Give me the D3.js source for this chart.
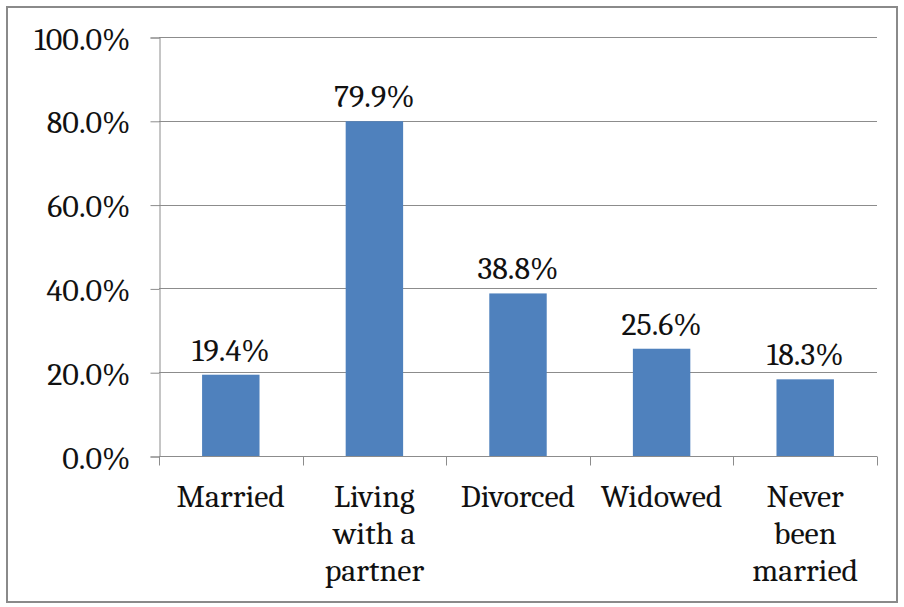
<!DOCTYPE html>
<html><head><meta charset="utf-8">
<script src="https://cdn.jsdelivr.net/npm/d3@7"></script>
<style>html,body{margin:0;padding:0;background:#fff;}svg{display:block;}</style>
</head><body>
<svg id="chart" width="904" height="607"></svg>
<script>
const categories = [["Married"], ["Living", "with a", "partner"], ["Divorced"], ["Widowed"], ["Never", "been", "married"]];
const values = [19.4, 79.9, 38.8, 25.6, 18.3];
const yTicks = [0, 20, 40, 60, 80, 100];

const svg = d3.select("#chart");
const font = "Caladea, Liberation Serif, serif";
const fs = 32;
const gridColor = "#8c8c8c";
const textColor = "#111";

svg.append("rect").attr("x", 7).attr("y", 7).attr("width", 890).attr("height", 595)
  .attr("fill", "#fff").attr("stroke", "#8a8a8a").attr("stroke-width", 2);

const plotL = 159, plotR = 877, plotT = 37, plotB = 456;
const keys = categories.map((c, i) => i);
const x = d3.scaleBand().domain(keys).range([plotL, plotR]).paddingInner(0.6).paddingOuter(0.3);
const xb = d3.scaleBand().domain(keys).range([plotL, plotR]);
const y = d3.scaleLinear().domain([0, 100]).range([plotB, plotT]);

// gridlines
svg.append("g").selectAll("line").data(yTicks.filter(d => d > 0)).join("line")
  .attr("x1", plotL).attr("x2", plotR)
  .attr("y1", d => Math.round(y(d)) + 0.5).attr("y2", d => Math.round(y(d)) + 0.5)
  .attr("stroke", gridColor).attr("stroke-width", 1);

// y axis
const yAxis = d3.axisLeft(y).tickValues(yTicks).tickSize(9).tickPadding(20)
  .tickFormat(d => d.toFixed(1) + "%");
const gy = svg.append("g").attr("transform", `translate(${plotL + 0.5},0.5)`).call(yAxis)
  .attr("font-family", font).attr("font-size", fs);
gy.select(".domain").attr("stroke", gridColor);
gy.selectAll(".tick line").attr("stroke", gridColor);
gy.selectAll(".tick text").style("font-family", font).style("font-size", fs + "px").attr("fill", textColor).attr("dy", "0.36em");

// bars
svg.append("g").selectAll("rect").data(values).join("rect")
  .attr("x", (d, i) => x(i)).attr("width", x.bandwidth())
  .attr("y", d => y(d)).attr("height", d => y(0) - y(d))
  .attr("fill", "#4F81BD");

// x axis
const gx = svg.append("g").attr("transform", `translate(0,${Math.round(plotB) + 0.5})`);
gx.append("line").attr("x1", plotL).attr("x2", plotR).attr("stroke", gridColor);
gx.selectAll("line.tk").data(d3.range(categories.length + 1)).join("line").attr("class", "tk")
  .attr("x1", i => Math.round(plotL + i * xb.bandwidth()) + 0.5)
  .attr("x2", i => Math.round(plotL + i * xb.bandwidth()) + 0.5)
  .attr("y1", 0).attr("y2", 9).attr("stroke", gridColor);

// category labels
const lab = svg.append("g").style("font-family", font).style("font-size", fs + "px").attr("fill", textColor).attr("text-anchor", "middle");
categories.forEach((lines, i) => {
  const cx = xb(i) + xb.bandwidth() / 2;
  const t = lab.append("text").attr("x", cx).attr("y", 507);
  lines.forEach((ln, j) => t.append("tspan").attr("x", cx).attr("dy", j === 0 ? 0 : 37).text(ln));
});

// data labels
svg.append("g").style("font-family", font).style("font-size", fs + "px").selectAll("text").data(values).join("text")
  .attr("x", (d, i) => x(i) + x.bandwidth() / 2).attr("y", d => y(d) - 14)
  .attr("text-anchor", "middle").attr("fill", textColor)
  .text(d => d.toFixed(1) + "%");
</script>
</body></html>
